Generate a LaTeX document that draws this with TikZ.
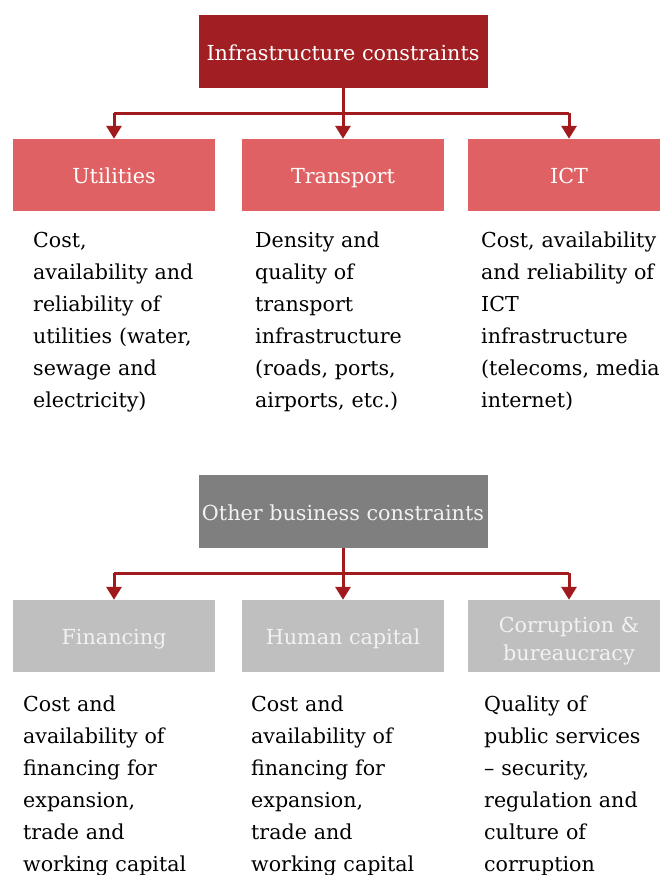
\documentclass[tikz,border=0pt]{standalone}
\usepackage{fontspec}
\setmainfont{DejaVu Serif}
\usetikzlibrary{arrows.meta}
\definecolor{topred}{HTML}{A11F23}
\definecolor{midred}{HTML}{DF6163}
\definecolor{topgray}{HTML}{7F7F7F}
\definecolor{midgray}{HTML}{BFBFBF}
\definecolor{linered}{HTML}{A01A1E}
\definecolor{lighttext}{HTML}{F2F2F2}
\tikzset{
  headbox/.style={fill=#1, text=white, minimum width=289pt, minimum height=73pt, inner sep=0pt, text height=17pt, text depth=0pt, font=\fontsize{20.7}{24}\selectfont},
  subbox/.style={fill=#1, text=white, minimum width=202pt, minimum height=72pt, inner sep=0pt, text height=17pt, text depth=0pt, font=\fontsize{20.7}{29}\selectfont},
  plainbox/.style={fill=#1, minimum width=202pt, minimum height=72pt, inner sep=0pt},
  boxlabel/.style={inner sep=0pt, align=center, font=\fontsize{20.7}{28.5}\selectfont},
  bodytext/.style={anchor=base west, inner sep=0pt, text width=220pt, align=left, font=\fontsize{20.6}{32}\selectfont},
  conn/.style={draw=linered, line width=3pt},
  arr/.style={draw=linered, line width=3pt, -{Triangle[width=15pt,length=13pt]}}
}
\begin{document}
\begin{tikzpicture}[x=1pt,y=-1pt]
\useasboundingbox[fill=white] (0,0) rectangle (660,875);
% top group
\node[headbox=topred] (top) at (343,51.5) {Infrastructure constraints};
\node[subbox=midred] (util) at (114,175) {Utilities};
\node[subbox=midred] (trans) at (343,175) {Transport};
\node[subbox=midred] (ict) at (569,175) {ICT};
\coordinate (j1) at (343,113);
\draw[conn] (util.north |- j1) -- (ict.north |- j1);
\draw[arr] (top.south) -- (trans.north);
\draw[arr] (util.north |- j1) -- (util.north);
\draw[arr] (ict.north |- j1) -- (ict.north);
\node[bodytext] (utiltxt) at (33,247) {Cost,\\availability and\\reliability of\\utilities (water,\\sewage and\\electricity)};
\node[bodytext] (transtxt) at (255,247) {Density and\\quality of\\transport\\infrastructure\\(roads, ports,\\airports, etc.)};
\node[bodytext] (icttxt) at (481,247) {Cost, availability\\and reliability of\\ICT\\infrastructure\\(telecoms, media\\internet)};
% bottom group
\node[headbox=topgray, text=lighttext] (other) at (343,511.5) {Other business constraints};
\node[subbox=midgray, text=lighttext] (fin) at (114,636) {Financing};
\node[subbox=midgray, text=lighttext] (hum) at (343,636) {Human capital};
\node[plainbox=midgray] (cor) at (569,636) {};
\node[boxlabel, text=lighttext, yshift=-5pt] (corlabel) at (cor.center) {Corruption \&\\bureaucracy};
\coordinate (j2) at (343,573);
\draw[conn] (fin.north |- j2) -- (cor.north |- j2);
\draw[arr] (other.south) -- (hum.north);
\draw[arr] (fin.north |- j2) -- (fin.north);
\draw[arr] (cor.north |- j2) -- (cor.north);
\node[bodytext] (fintxt) at (23,711) {Cost and\\availability of\\financing for\\expansion,\\trade and\\working capital};
\node[bodytext] (humtxt) at (251,711) {Cost and\\availability of\\financing for\\expansion,\\trade and\\working capital};
\node[bodytext] (cortxt) at (484,711) {Quality of\\public services\\– security,\\regulation and\\culture of\\corruption};
\end{tikzpicture}
\end{document}
